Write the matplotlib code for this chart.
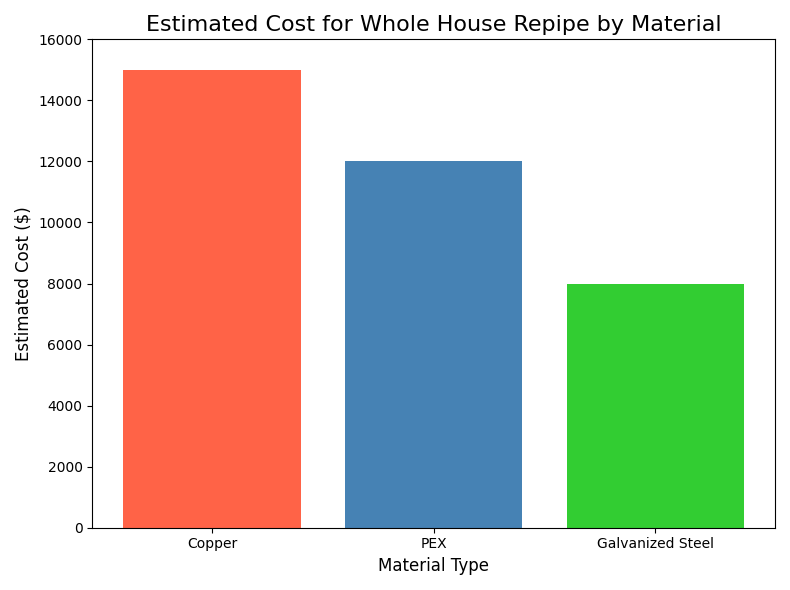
import matplotlib.pyplot as plt

materials = ['Copper', 'PEX', 'Galvanized Steel']
costs = [15000, 12000, 8000]
colors = ['tomato', 'steelblue', 'limegreen']

plt.figure(figsize=(7.9, 5.9), dpi=100)
plt.bar(materials, costs, color=colors)
plt.ylim(0, 16000)
plt.title('Estimated Cost for Whole House Repipe by Material', fontsize=16)
plt.xlabel('Material Type', fontsize=12)
plt.ylabel('Estimated Cost ($)', fontsize=12)
plt.tight_layout()
plt.savefig('out.png', dpi=100)
